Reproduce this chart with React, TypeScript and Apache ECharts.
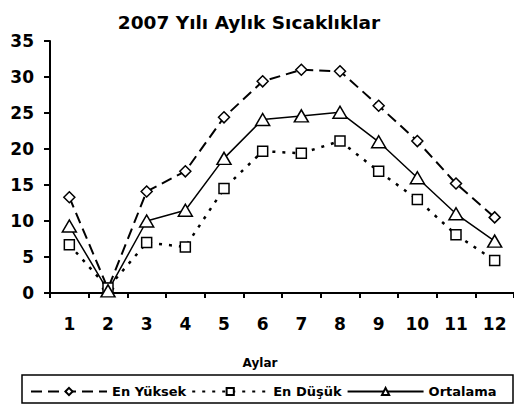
import React, { useEffect, useRef } from "react";
import * as echarts from "echarts";

const months = ["1", "2", "3", "4", "5", "6", "7", "8", "9", "10", "11", "12"];
const highTemps = [13.3, 0.6, 14.1, 16.9, 24.4, 29.4, 31.0, 30.8, 26.0, 21.1, 15.2, 10.5];
const lowTemps = [6.7, 0.7, 7.0, 6.4, 14.5, 19.7, 19.4, 21.1, 16.9, 13.0, 8.1, 4.5];
const avgTemps = [9.3, 0.3, 10.0, 11.5, 18.7, 24.1, 24.6, 25.1, 21.0, 16.0, 11.0, 7.2];

const FONT = "DejaVu Sans";

export default function App() {
  const ref = useRef<HTMLDivElement>(null);
  useEffect(() => {
    if (!ref.current) return;
    const chart = echarts.init(ref.current, null, { renderer: "svg" });
    const markerStyle = { color: "#fff", borderColor: "#000", borderWidth: 1.5 };
    chart.setOption({
      animation: false,
      backgroundColor: "#fff",
      title: [
        {
          text: "2007 Yılı Aylık Sıcaklıklar",
          left: 244,
          top: 8,
          textAlign: "center",
          textStyle: { fontFamily: FONT, fontWeight: "bold", fontSize: 18.5, color: "#000" },
        },
        {
          text: "Aylar",
          left: 255,
          top: 352,
          textAlign: "center",
          textStyle: { fontFamily: FONT, fontWeight: "bold", fontSize: 12, color: "#000" },
        },
      ],
      grid: { left: 50, right: -3, top: 41, bottom: 112, containLabel: false },
      xAxis: {
        type: "category",
        data: months,
        boundaryGap: true,
        axisLine: { lineStyle: { color: "#000", width: 2 } },
        axisTick: { show: true, length: 5, lineStyle: { color: "#000", width: 2 } },
        axisLabel: { margin: 22, fontFamily: FONT, fontWeight: "bold", fontSize: 17, color: "#000", interval: 0 },
        splitLine: { show: false },
      },
      yAxis: {
        type: "value",
        min: 0,
        max: 35,
        interval: 5,
        axisLine: { show: true, lineStyle: { color: "#000", width: 2 } },
        axisTick: { show: true, length: 6, lineStyle: { color: "#000", width: 2 } },
        axisLabel: { margin: 16, fontFamily: FONT, fontWeight: "bold", fontSize: 17, color: "#000" },
        splitLine: { show: false },
      },
      legend: {
        orient: "horizontal",
        left: 30,
        top: 385,
        width: 484,
        padding: 0,
        itemWidth: 76,
        itemHeight: 9,
        itemGap: 5,
        textStyle: { fontFamily: FONT, fontWeight: "bold", fontSize: 13, color: "#000" },
        data: ["En Yüksek", "En Düşük", "Ortalama"],
      },
      graphic: [
        {
          type: "rect",
          shape: { x: 22, y: 375, width: 491, height: 28 },
          style: { fill: "none", stroke: "#000", lineWidth: 1.5 },
          silent: true,
        },
      ],
      series: [
        {
          name: "En Yüksek",
          type: "line",
          data: highTemps,
          symbol: "diamond",
          symbolSize: 11,
          itemStyle: markerStyle,
          lineStyle: { color: "#000", width: 2, type: [11, 6] },
        },
        {
          name: "En Düşük",
          type: "line",
          data: lowTemps,
          symbol: "rect",
          symbolSize: 10,
          itemStyle: markerStyle,
          lineStyle: { color: "#000", width: 2.5, type: [3, 7] },
        },
        {
          name: "Ortalama",
          type: "line",
          data: avgTemps,
          symbol: "triangle",
          symbolSize: [14, 12],
          itemStyle: markerStyle,
          lineStyle: { color: "#000", width: 1.5, type: "solid" },
        },
      ],
    });
    return () => chart.dispose();
  }, []);
  return (
    <div
      ref={ref}
      style={{ position: "fixed", left: 0, top: 0, width: 514, height: 405, background: "#fff" }}
    />
  );
}
